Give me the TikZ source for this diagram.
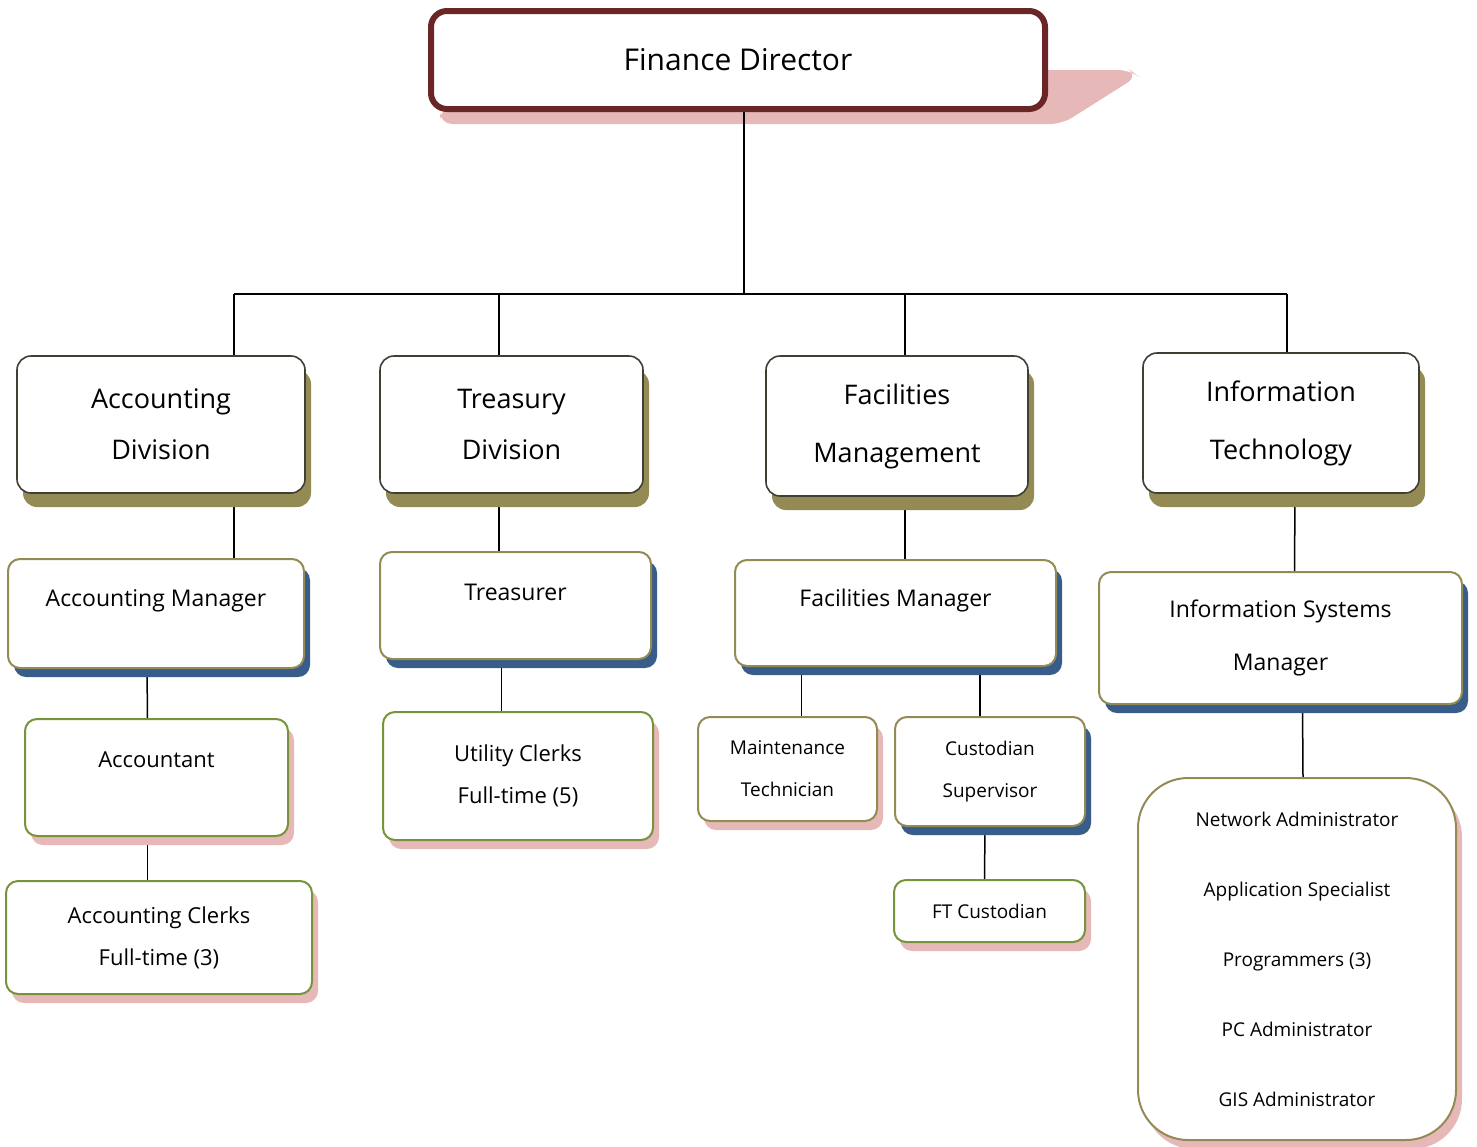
\documentclass[tikz,border=0pt]{standalone}
\usepackage{fontspec}
\setmainfont{Open Sans}
\usetikzlibrary{shadows,backgrounds,calc}

\definecolor{fdline}{HTML}{6A2626}
\definecolor{pinkshade}{HTML}{E6B9B8}
\definecolor{divline}{HTML}{403F35}
\definecolor{oliveshade}{HTML}{948A54}
\definecolor{oliveline}{HTML}{948A54}
\definecolor{blueshade}{HTML}{385D8A}
\definecolor{greenline}{HTML}{77933C}

\tikzset{
  sz/.style 2 args={minimum width=#1*0.5pt, minimum height=#2*0.5pt},
  base/.style={draw, fill=white, align=center, inner sep=0pt},
  topbox/.style={base, draw=fdline, line width=3pt, rounded corners=8pt,
    font=\fontsize{15}{18}\selectfont},
  divbox/.style={base, draw=divline, line width=0.8pt, rounded corners=7pt,
    font=\fontsize{13.5}{25.5}\selectfont,
    drop shadow={shadow xshift=3pt, shadow yshift=-7pt, fill=oliveshade, opacity=1}},
  mgrbox/.style={base, draw=oliveline, line width=1pt, rounded corners=6pt,
    font=\fontsize{11.5}{26.5}\selectfont,
    drop shadow={shadow xshift=3pt, shadow yshift=-4.5pt, fill=blueshade, opacity=1}},
  staffbox/.style={base, draw=greenline, line width=1pt, rounded corners=6pt,
    font=\fontsize{11}{21}\selectfont,
    drop shadow={shadow xshift=3pt, shadow yshift=-4.5pt, fill=pinkshade, opacity=1}},
  smallbox/.style={staffbox, draw=oliveline, font=\fontsize{9.5}{21}\selectfont},
  link/.style={line width=0.75pt},
}

\begin{document}
\begin{tikzpicture}[x=0.5pt,y=-0.5pt]
  \useasboundingbox (0,0) rectangle (1477,1146);

  % director
  \node[topbox, sz={614}{98}] (fd) at (738,60) {Finance Director};

  % divisions
  \node[divbox, sz={288}{137}] (acc) at (161,424.5) {Accounting\\Division};
  \node[divbox, sz={263}{137}] (td) at (511.5,424.5) {Treasury\\Division};
  \node[divbox, sz={262}{140}, font=\fontsize{13.5}{29}\selectfont] (fm) at (897,426) {Facilities\\Management};
  \node[divbox, sz={276}{140}, font=\fontsize{13.5}{29}\selectfont] (it) at (1281,423) {Information\\Technology};

  % managers
  \node[mgrbox, sz={296}{109}, text depth=15pt] (am) at (156,613.5) {Accounting Manager};
  \node[mgrbox, sz={271}{107}, text depth=13pt] (tr) at (515.5,605.5) {Treasurer};
  \node[mgrbox, sz={321}{106}, text depth=15pt] (fmgr) at (895.5,613) {Facilities Manager};
  \node[mgrbox, sz={363}{132}] (ism) at (1280.5,638) {Information Systems\\Manager};

  % staff
  \node[staffbox, sz={263}{117}, text depth=18pt] (acct) at (156.5,777.5) {Accountant};
  \node[staffbox, sz={306}{113}] (clerk) at (159,937.5) {Accounting Clerks\\Full-time (3)};
  \node[staffbox, sz={270}{128}] (uc) at (518,776) {Utility Clerks\\Full-time (5)};
  \node[smallbox, sz={179}{104}] (maint) at (787.5,769) {Maintenance\\Technician};
  \node[smallbox, sz={190}{109}, drop shadow={shadow xshift=3pt, shadow yshift=-4.5pt, fill=blueshade, opacity=1}] (cust) at (990,771.5) {Custodian\\Supervisor};
  \node[staffbox, sz={191}{62}, font=\fontsize{9.5}{21}\selectfont] (ft) at (989.5,911) {FT Custodian};
  \node[smallbox, sz={318}{362}, rounded corners=25pt, font=\fontsize{9.5}{35}\selectfont] (staff) at (1297,959)
    {Network Administrator\\Application Specialist\\Programmers (3)\\PC Administrator\\GIS Administrator};

  \begin{pgfonlayer}{background}
    \fill[pinkshade, rounded corners=6pt] (440,108) -- (440,124) -- (1062,124) -- (1138,76) -- (1130,70) -- (1040,70) -- cycle;
    \coordinate (b1) at (234,294);
    \coordinate (b2) at (499,294);
    \coordinate (b3) at (905,294);
    \coordinate (b4) at (1287,294);
    \coordinate (b0) at (744,294);
    \draw[link] (b0 |- fd.south) -- (b0);
    \draw[link] (b1) -- (b4);
    \draw[link] (b1) -- (b1 |- acc.north);
    \draw[link] (b2) -- (b2 |- td.north);
    \draw[link] (b3) -- (b3 |- fm.north);
    \draw[link] (b4) -- (b4 |- it.north);
    \draw[link] (b1 |- acc.south) -- (b1 |- am.north);
    \draw[link] ($(am.south)+(-9,0)$) -- ($(acct.north)+(-9,0)$);
    \draw[link] ($(acct.south)+(-9,0)$) -- ($(acct.south |- clerk.north)+(-9,0)$);
    \draw[link] (b2 |- td.south) -- (b2 |- tr.north);
    \draw[link] ($(tr.south)+(-14,0)$) -- ($(tr.south |- uc.north)+(-14,10)$);
    \draw[link] (b3 |- fm.south) -- (b3 |- fmgr.north);
    \draw[link] ($(maint.north)+(14,0)$) -- ($(maint.north |- fmgr.south)+(14,0)$);
    \draw[link] ($(cust.north)+(-10,0)$) -- ($(cust.north |- fmgr.south)+(-10,0)$);
    \draw[link] ($(cust.south)+(-5,0)$) -- ($(ft.north)+(-5,0)$);
    \draw[link] ($(it.south)+(14,0)$) -- ($(ism.north)+(14,0)$);
    \draw[link] ($(ism.south)+(22,0)$) -- ($(staff.north)+(6,0)$);
  \end{pgfonlayer}
\end{tikzpicture}
\end{document}
